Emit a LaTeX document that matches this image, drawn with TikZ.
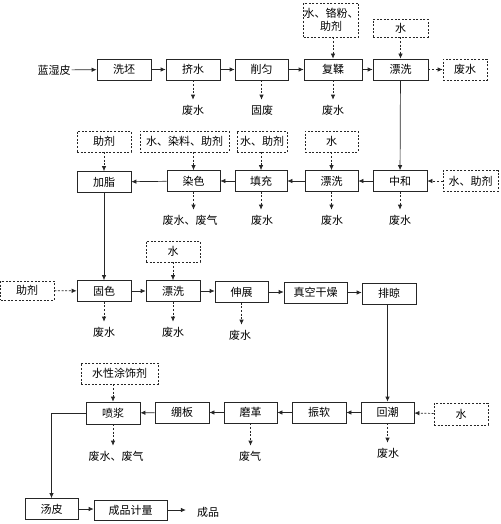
\documentclass[tikz,border=0pt]{standalone}
\usepackage{fontspec}
\newfontfamily\cjk{Noto Sans CJK SC}
\usetikzlibrary{arrows.meta}
\begin{document}
\begin{tikzpicture}[x=1pt,y=-1pt,
  every node/.style={font=\cjk\fontsize{11}{12.5}\selectfont, text=black},
  box/.style={draw=black!85, line width=0.7pt, minimum height=21pt, inner sep=0pt, align=center},
  dbox/.style={box, dash pattern=on 2pt off 1.6pt},
  txt/.style={inner sep=1pt},
  flow/.style={draw=black!85, line width=0.7pt, -{Latex[length=5pt,width=4.5pt]}},
  dflow/.style={flow, dash pattern=on 2pt off 1.6pt},
]
\useasboundingbox (0,0) rectangle (500,524);
% ---------- row 1
\node[txt] (raw) at (54,70) {蓝湿皮};
\node[box, minimum width=54pt] (xp) at (124,69.5) {洗坯};
\node[box, minimum width=54pt] (js) at (193,69.5) {挤水};
\node[box, minimum width=53pt] (xy) at (261.5,69.5) {削匀};
\node[box, minimum width=58pt] (fr) at (333,69.5) {复鞣};
\node[box, minimum width=55pt] (pa) at (400.5,69.5) {漂洗};
\node[dbox, minimum width=44pt] (fa) at (465,69.5) {废水};
\node[dbox, minimum width=54pt, minimum height=34pt] (ia) at (331,20) {水、铬粉、\\助剂};
\node[dbox, minimum width=55pt, minimum height=18pt] (ib) at (400.5,28) {水};
\node[txt] (wa) at (193,110) {废水};
\node[txt] (wb) at (262,110) {固废};
\node[txt] (wc) at (333,110) {废水};
\draw[flow] (raw) -- (xp);
\draw[flow] (xp) -- (js);
\draw[flow] (js) -- (xy);
\draw[flow] (xy) -- (fr);
\draw[flow] (fr) -- (pa);
\draw[dflow] (pa) -- (fa);
\draw[dflow] (ia.south -| fr) -- (fr);
\draw[dflow] (ib) -- (pa);
\draw[dflow, shorten >=4pt] (js) -- (js |- wa.north);
\draw[dflow, shorten >=4pt] (xy) -- (xy |- wb.north);
\draw[dflow, shorten >=4pt] (fr) -- (fr |- wc.north);
% ---------- row 2
\node[box, minimum width=54pt] (zh) at (400,181) {中和};
\node[dbox, minimum width=55pt] (ic) at (470.5,181) {水、助剂};
\node[box, minimum width=53pt] (pb) at (331.5,181) {漂洗};
\node[box, minimum width=52pt] (tc) at (261,181) {填充};
\node[box, minimum width=53pt] (rs) at (193.5,181) {染色};
\node[box, minimum width=54pt] (jz) at (104,182) {加脂};
\node[dbox, minimum width=54pt] (id) at (104,141.5) {助剂};
\node[dbox, minimum width=89pt] (ie) at (184.5,141.5) {水、染料、助剂};
\node[dbox, minimum width=50pt] (if) at (262,141.5) {水、助剂};
\node[dbox, minimum width=53pt] (ig) at (331.5,141.5) {水};
\node[txt] (wd) at (190,220) {废水、废气};
\node[txt] (we) at (262,220) {废水};
\node[txt] (wf) at (332,220) {废水};
\node[txt] (wg) at (400,220) {废水};
\draw[flow] (pa) -- (zh);
\draw[dflow] (ic) -- (zh);
\draw[flow] (zh) -- (pb);
\draw[flow] (pb) -- (tc);
\draw[flow] (tc) -- (rs);
\draw[flow] (rs) -- (jz);
\draw[dflow] (id) -- (jz);
\draw[dflow] (ie.south -| rs) -- (rs);
\draw[dflow] (if.south -| tc) -- (tc);
\draw[dflow] (ig) -- (pb);
\draw[dflow, shorten >=4pt] (rs) -- (rs |- wd.north);
\draw[dflow, shorten >=4pt] (tc) -- (tc |- we.north);
\draw[dflow, shorten >=4pt] (pb) -- (pb |- wf.north);
\draw[dflow, shorten >=4pt] (zh) -- (zh |- wg.north);
% ---------- row 3
\node[box, minimum width=54pt] (gs) at (104,291) {固色};
\node[dbox, minimum width=53.5pt, minimum height=19pt] (ih) at (27.25,290.5) {助剂};
\node[box, minimum width=54pt] (pc) at (173,291) {漂洗};
\node[dbox, minimum width=54pt] (ii) at (173,251.5) {水};
\node[box, minimum width=53pt] (sz) at (241.5,292) {伸展};
\node[box, minimum width=63pt] (zk) at (315.5,292.5) {真空干燥};
\node[box, minimum width=54pt] (pl) at (389,293.5) {排晾};
\node[txt] (wh) at (104,332) {废水};
\node[txt] (wi) at (173,332) {废水};
\node[txt] (wj) at (240,335) {废水};
\draw[flow] (jz) -- (gs);
\draw[dflow] (ih) -- (gs);
\draw[flow] (gs) -- (pc);
\draw[dflow] (ii) -- (pc);
\draw[flow] (pc) -- (pc -| sz.west);
\draw[flow] (sz) -- (sz -| zk.west);
\draw[flow] (zk) -- (zk -| pl.west);
\draw[dflow, shorten >=4pt] (gs) -- (gs |- wh.north);
\draw[dflow, shorten >=4pt] (pc) -- (pc |- wi.north);
\draw[dflow, shorten >=4pt] (sz) -- (sz |- wj.north);
% ---------- row 4
\node[box, minimum width=53pt] (hc) at (387.5,412.5) {回潮};
\node[dbox, minimum width=54pt, minimum height=22pt] (ij) at (461,414) {水};
\node[box, minimum width=54pt] (zr) at (319,412.5) {振软};
\node[box, minimum width=53pt] (mg) at (250.5,412.5) {磨革};
\node[box, minimum width=54pt] (bb) at (182,412.5) {绷板};
\node[box, minimum width=54pt, minimum height=22pt] (pj) at (113,413) {喷浆};
\node[dbox, minimum width=77pt] (ik) at (119.5,373.5) {水性涂饰剂};
\node[txt] (wk) at (116,456) {废水、废气};
\node[txt] (wl) at (250,456) {废气};
\node[txt] (wm) at (388,453) {废水};
\draw[flow] (pl.south -| hc) -- (hc);
\draw[dflow] (ij) -- (hc);
\draw[flow] (hc) -- (zr);
\draw[flow] (zr) -- (mg);
\draw[flow] (mg) -- (bb);
\draw[flow] (bb) -- (pj);
\draw[dflow] (ik.south -| pj) -- (pj);
\draw[dflow, shorten >=4pt] (pj) -- (pj |- wk.north);
\draw[dflow, shorten >=4pt] (mg) -- (mg |- wl.north);
\draw[dflow, shorten >=4pt] (hc) -- (hc |- wm.north);
% ---------- row 5
\node[box, minimum width=53pt] (tp) at (51.5,509) {汤皮};
\node[box, minimum width=73pt, minimum height=20pt] (cp) at (130.5,510) {成品计量};
\node[txt] (cpo) at (208,512) {成品};
\draw[flow] (pj.west) -| (tp.north);
\draw[flow] (tp) -- (tp -| cp.west);
\draw[flow, shorten >=10pt] (cp) -- (cp -| cpo.west);
\end{tikzpicture}
\end{document}
